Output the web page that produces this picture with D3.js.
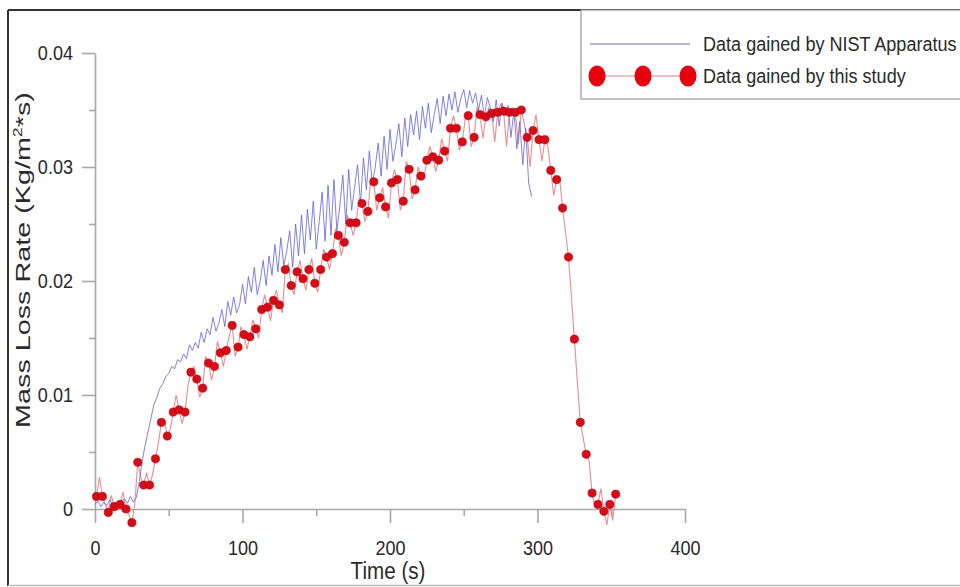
<!DOCTYPE html>
<html>
<head>
<meta charset="utf-8">
<script src="https://cdn.jsdelivr.net/npm/d3@7"></script>
<style>
  body { margin: 0; background: #fff; }
  svg { display: block; }
  text { font-family: "Liberation Sans", Arial, sans-serif; fill: #2a2a2a; }
</style>
</head>
<body>
<svg id="chart" width="960" height="587"></svg>
<script>
// x tick labels and y tick labels
const xTicks = [0, 100, 200, 300, 400];
const yTicks = [0, 0.01, 0.02, 0.03, 0.04];

// NIST apparatus, sampled every 2 s from t = 0
const nistStep = 2;
const nistValues = [
  0.0004, 0.0007, 0.0002, 0.0006, 0.0003, 0.0008, 0.0004, 0.0006, 0.0002, 0.0007,
  0.0009, 0.0005, 0.0011, 0.0006, 0.0010, 0.0024, 0.0042, 0.0056, 0.0068, 0.0080,
  0.0092, 0.0098, 0.0106, 0.0110, 0.0116, 0.0119, 0.0125, 0.0123, 0.0131, 0.0129,
  0.0136, 0.0132, 0.0144, 0.0139, 0.0146, 0.0141, 0.0155, 0.0146, 0.0158, 0.0153,
  0.0168, 0.0156, 0.0163, 0.0175, 0.0160, 0.0182, 0.0170, 0.0186, 0.0172, 0.0179,
  0.0197, 0.0180, 0.0204, 0.0190, 0.0212, 0.0188, 0.0200, 0.0218, 0.0196, 0.0222,
  0.0205, 0.0232, 0.0208, 0.0238, 0.0214, 0.0226, 0.0244, 0.0212, 0.0250, 0.0222,
  0.0258, 0.0224, 0.0263, 0.0236, 0.0270, 0.0228, 0.0252, 0.0278, 0.0235, 0.0284,
  0.0240, 0.0289, 0.0244, 0.0266, 0.0293, 0.0250, 0.0298, 0.0262, 0.0282, 0.0302,
  0.0268, 0.0308, 0.0280, 0.0314, 0.0286, 0.0300, 0.0321, 0.0292, 0.0327, 0.0298,
  0.0333, 0.0305, 0.0320, 0.0338, 0.0309, 0.0343, 0.0318, 0.0346, 0.0328, 0.0349,
  0.0324, 0.0353, 0.0334, 0.0356, 0.0330, 0.0346, 0.0360, 0.0338, 0.0362, 0.0345,
  0.0364, 0.0350, 0.0366, 0.0348, 0.0360, 0.0368, 0.0352, 0.0367, 0.0356, 0.0365,
  0.0350, 0.0363, 0.0344, 0.0361, 0.0352, 0.0340, 0.0359, 0.0336, 0.0356, 0.0345,
  0.0354, 0.0326, 0.0349, 0.0316, 0.0340, 0.0302, 0.0334, 0.0286, 0.0274
];

// this study: marker samples
const studyTimes = [
  1, 5, 9, 13, 17, 21, 25, 29, 33, 37, 41, 45, 49, 53, 57, 61, 65, 69, 73, 77,
  81, 85, 89, 93, 97, 101, 105, 109, 113, 117, 121, 125, 129, 133, 137, 141, 145, 149, 153, 157,
  161, 165, 169, 173, 177, 181, 185, 189, 193, 197, 201, 205, 209, 213, 217, 221, 225, 229, 233, 237,
  241, 245, 249, 253, 257, 261, 265, 269, 273, 277, 281, 285, 289, 293, 297, 301, 305, 309, 313, 317,
  321, 325, 329, 333, 337, 341, 345, 349, 353
];
const studyValues = [
  0.0011, 0.0011, -0.0003, 0.0002, 0.0004, 0.0000, -0.0012, 0.0041, 0.0021, 0.0021,
  0.0044, 0.0076, 0.0064, 0.0085, 0.0087, 0.0085, 0.0120, 0.0114, 0.0106, 0.0128,
  0.0125, 0.0137, 0.0139, 0.0161, 0.0142, 0.0153, 0.0151, 0.0158, 0.0175, 0.0177,
  0.0183, 0.0179, 0.0210, 0.0196, 0.0208, 0.0202, 0.0210, 0.0198, 0.0210, 0.0221,
  0.0224, 0.0240, 0.0234, 0.0251, 0.0251, 0.0268, 0.0261, 0.0287, 0.0273, 0.0265,
  0.0286, 0.0289, 0.0270, 0.0298, 0.0280, 0.0292, 0.0306, 0.0309, 0.0306, 0.0314,
  0.0334, 0.0334, 0.0322, 0.0345, 0.0326, 0.0346, 0.0344, 0.0347, 0.0348, 0.0349,
  0.0348, 0.0348, 0.0350, 0.0326, 0.0332, 0.0324, 0.0324, 0.0297, 0.0289, 0.0264,
  0.0221, 0.0149, 0.0076, 0.0048, 0.0014, 0.0004, -0.0002, 0.0004, 0.0013
];
// this study: raw samples between markers (t = 3, 7, 11, ...)
const studyMidValues = [
  0.0028, 0.0004, 0.0012, 0.0002, 0.0015, -0.0005, 0.0005, 0.0028, 0.0032, 0.0030,
  0.0058, 0.0078, 0.0070, 0.0100, 0.0075, 0.0108, 0.0125, 0.0098, 0.0134, 0.0113,
  0.0147, 0.0125, 0.0152, 0.0134, 0.0160, 0.0140, 0.0166, 0.0150, 0.0188, 0.0165,
  0.0192, 0.0172, 0.0215, 0.0188, 0.0218, 0.0192, 0.0220, 0.0190, 0.0228, 0.0210,
  0.0245, 0.0222, 0.0258, 0.0240, 0.0272, 0.0252, 0.0290, 0.0262, 0.0282, 0.0255,
  0.0298, 0.0262, 0.0305, 0.0272, 0.0300, 0.0290, 0.0318, 0.0296, 0.0325, 0.0305,
  0.0345, 0.0315, 0.0342, 0.0318, 0.0352, 0.0325, 0.0352, 0.0322, 0.0355, 0.0318,
  0.0352, 0.0320, 0.0338, 0.0300, 0.0346, 0.0305, 0.0318, 0.0275, 0.0290, 0.0243,
  0.0186, 0.0112, 0.0062, 0.0042, 0.0002, 0.0018, -0.0014, -0.0010
];

const svg = d3.select("#chart");
const squeeze = 0.86; // narrow type face look

const x = d3.scaleLinear().domain([0, 400]).range([95, 685]);
const y = d3.scaleLinear().domain([0, 0.04]).range([509, 53]);

// outer frame
svg.append("line").attr("x1", 8).attr("x2", 960).attr("y1", 10).attr("y2", 10)
  .attr("stroke", "#333").attr("stroke-width", 2);
svg.append("line").attr("x1", 8).attr("x2", 8).attr("y1", 10).attr("y2", 586)
  .attr("stroke", "#333").attr("stroke-width", 2);
svg.append("line").attr("x1", 8).attr("x2", 960).attr("y1", 585.5).attr("y2", 585.5)
  .attr("stroke", "#bbb").attr("stroke-width", 1.5);

// axes
const axisColor = "#a8a8a8";
const gy = svg.append("g").attr("transform", `translate(${x(0)},0)`);
gy.call(d3.axisLeft(y).tickValues(d3.range(0.005, 0.04, 0.01)).tickSize(6).tickFormat("").tickSizeOuter(0));
gy.call(g => g.select(".domain").remove());
const gy2 = svg.append("g").attr("transform", `translate(${x(0)},0)`);
gy2.call(d3.axisLeft(y).tickValues(yTicks).tickSize(13).tickSizeOuter(0)
  .tickFormat(d => d === 0 ? "0" : d3.format(".2f")(d)));
gy2.selectAll(".tick text")
  .attr("x", -22 / squeeze)
  .attr("transform", `scale(${squeeze},1)`)
  .style("font-size", "21px").attr("fill", "#2a2a2a");

const gx = svg.append("g").attr("transform", `translate(0,${y(0)})`);
gx.call(d3.axisBottom(x).tickValues(d3.range(50, 400, 100)).tickSize(7).tickFormat("").tickSizeOuter(0));
gx.call(g => g.select(".domain").remove());
const gx2 = svg.append("g").attr("transform", `translate(0,${y(0)})`);
gx2.call(d3.axisBottom(x).tickValues(xTicks).tickSize(14).tickPadding(17).tickSizeOuter(0));
gx2.selectAll(".tick text")
  .attr("transform", `scale(${squeeze},1)`)
  .style("font-size", "21px").attr("fill", "#2a2a2a");
svg.selectAll("g .domain, g .tick line").attr("stroke", axisColor).attr("stroke-width", 1.6);

// axis titles
svg.append("g").attr("transform", `translate(${x(200) - 2},579) scale(${squeeze},1)`)
  .append("text").attr("text-anchor", "middle").style("font-size", "24px").text("Time (s)");
const yt = svg.append("text").attr("transform", `translate(30,260) rotate(-90)`)
  .attr("text-anchor", "middle").style("font-size", "21px");
yt.append("tspan").text("Mass Loss Rate (Kg/m");
yt.append("tspan").attr("dy", -8).style("font-size", "13px").text("2");
yt.append("tspan").attr("dy", 8).text("*s)");
// stretch the rotated title to its length in the figure
const ytLen = yt.node().getComputedTextLength();
yt.attr("transform", `translate(30,260) rotate(-90) scale(${336 / ytLen},1)`);

// series
const nist = nistValues.map((v, i) => [i * nistStep, v]);
const study = [];
studyTimes.forEach((t, i) => {
  study.push([t, studyValues[i]]);
  if (i < studyMidValues.length) study.push([t + 2, studyMidValues[i]]);
});
const line = d3.line().x(d => x(d[0])).y(d => y(d[1]));

svg.append("path").datum(study).attr("d", line)
  .attr("fill", "none").attr("stroke", "#e27a7a").attr("stroke-width", 1.1).attr("opacity", 0.85);
svg.append("path").datum(nist).attr("d", line)
  .attr("fill", "none").attr("stroke", "#6262d6").attr("stroke-width", 1).attr("opacity", 0.8);
svg.append("g").selectAll("circle")
  .data(studyTimes.map((t, i) => [t, studyValues[i]]))
  .join("circle")
  .attr("cx", d => x(d[0])).attr("cy", d => y(d[1])).attr("r", 4.1)
  .attr("fill", "#d80c16").attr("stroke", "#a80010").attr("stroke-width", 0.6);

// legend
const lg = svg.append("g");
lg.append("rect").attr("x", 581).attr("y", 10).attr("width", 385).attr("height", 89)
  .attr("fill", "#fff").attr("stroke", "#999").attr("stroke-width", 1.2);
lg.append("line").attr("x1", 590).attr("x2", 690).attr("y1", 44).attr("y2", 44)
  .attr("stroke", "#6a6a9a").attr("stroke-width", 1);
lg.append("line").attr("x1", 597).attr("x2", 688).attr("y1", 76).attr("y2", 76)
  .attr("stroke", "#e08080").attr("stroke-width", 1.2);
lg.selectAll("ellipse").data([597, 643, 688]).join("ellipse")
  .attr("cx", d => d).attr("cy", 76).attr("rx", 8.5).attr("ry", 10.5)
  .attr("fill", "#e8000e");
const legendLabels = ["Data gained by NIST Apparatus", "Data gained by this study"];
lg.selectAll("g.lt").data(legendLabels).join("g").attr("class", "lt")
  .attr("transform", (d, i) => `translate(703,${44 + i * 32}) scale(${squeeze},1)`)
  .append("text").attr("dy", "0.35em").style("font-size", "21px").text(d => d);
</script>
</body>
</html>
